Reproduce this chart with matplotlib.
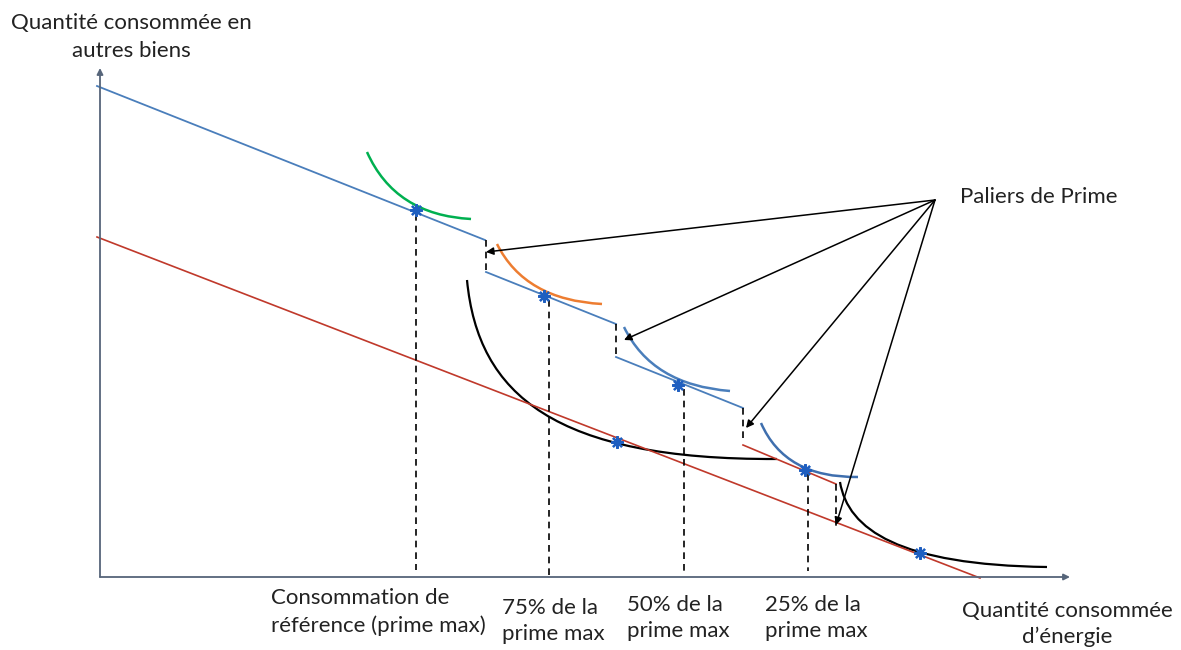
import matplotlib
matplotlib.use("Agg")
import matplotlib.pyplot as plt
from matplotlib.path import Path
from matplotlib.patches import PathPatch

# schematic drawn in picture units (x to the right, y downwards)
W, H = 1181, 650

# axes
origin = (100, 577)
y_axis_top = 68
x_axis_end = 1070

# budget lines
blue_steps = [[(97, 86), (485, 240)],
              [(486, 272), (616, 324)],
              [(616, 357), (743, 408)]]
red_upper = [(743, 445), (836, 484)]
red_lower = [(97, 237), (980, 578)]
step_x = [486, 616, 743, 836]
step_top = [240, 324, 408, 484]
step_bot = [273, 357, 441, 526]

# indifference curves (quadratic: start, control, end)
quad_curves = {
    "#00b050": [(367, 152), (395, 215), (471, 219)],
    "#ed7d31": [(497, 244), (525, 300), (602, 304)],
    "#4a7ebb": [(624, 327), (652, 385), (730, 391)],
    "#3f6fae": [(761, 423), (785, 478), (858, 477)],
}
# black curves (cubic)
cubic_curves = [
    [(467, 280), (478, 395), (555, 460), (777, 459)],
    [(840, 482), (848, 530), (900, 565), (1047, 567)],
]

# optimum points
star_x = [416, 544, 678, 805, 617, 920]
star_y = [210, 296, 385, 470, 442, 553]
drop_x = [416, 549, 684, 808]
drop_top = [214, 300, 389, 474]
drop_bot = [570, 575, 573, 571]

# arrows "Paliers de Prime"
arrow_from = (935, 200)
arrow_to = [(486, 252), (624, 340), (746, 428), (836, 525)]

labels = [("Consommation de\nréférence (prime max)", 271, 612),
          ("75% de la\nprime max", 502, 621),
          ("50% de la\nprime max", 627, 618),
          ("25% de la\nprime max", 765, 618)]

fig = plt.figure(figsize=(W / 100, H / 100), dpi=100)
ax = fig.add_axes([0, 0, 1, 1])
ax.set_xlim(0, W)
ax.set_ylim(H, 0)
ax.axis("off")

font = "Lato"
fs = 16
axis_col = "#56657a"
txt_col = "#222222"

ax.annotate("", xy=(origin[0], y_axis_top), xytext=(origin[0], origin[1]),
            arrowprops=dict(arrowstyle="-|>", color=axis_col, lw=1.3,
                            mutation_scale=9, shrinkA=0, shrinkB=0))
ax.annotate("", xy=(x_axis_end, origin[1]), xytext=(origin[0], origin[1]),
            arrowprops=dict(arrowstyle="-|>", color=axis_col, lw=1.3,
                            mutation_scale=9, shrinkA=0, shrinkB=0))

for seg in blue_steps:
    ax.plot([seg[0][0], seg[1][0]], [seg[0][1], seg[1][1]], color="#4a7ebb", lw=1.3)
ax.plot([p[0] for p in red_upper], [p[1] for p in red_upper], color="#c0392b", lw=1.2)
ax.plot([p[0] for p in red_lower], [p[1] for p in red_lower], color="#c0392b", lw=1.2)

for x, t, b in zip(step_x, step_top, step_bot):
    ax.plot([x, x], [t, b], color="black", lw=1.2, ls=(0, (4, 3)))

for col, pts in quad_curves.items():
    path = Path(pts, [Path.MOVETO, Path.CURVE3, Path.CURVE3])
    ax.add_patch(PathPatch(path, fc="none", ec=col, lw=1.8))
for pts in cubic_curves:
    path = Path(pts, [Path.MOVETO, Path.CURVE4, Path.CURVE4, Path.CURVE4])
    ax.add_patch(PathPatch(path, fc="none", ec="black", lw=1.6))

for x, t, b in zip(drop_x, drop_top, drop_bot):
    ax.plot([x, x], [t, b], color="black", lw=1.2, ls=(0, (4, 3)))

ax.plot(star_x, star_y, ls="none", marker=(8, 2, 0), ms=9, mew=1.6,
        color="#1f5fc0", zorder=5)

for tgt in arrow_to:
    ax.annotate("", xy=tgt, xytext=arrow_from,
                arrowprops=dict(arrowstyle="-|>", color="black", lw=1.1,
                                mutation_scale=11, shrinkA=0, shrinkB=0))

ax.text(131, 37, "Quantité consommée en\nautres biens", ha="center", va="center",
        fontsize=fs, family=font, color=txt_col, linespacing=1.45)
ax.text(960, 197, "Paliers de Prime", ha="left", va="center",
        fontsize=fs, family=font, color=txt_col)
ax.text(1067, 624, "Quantité consommée\nd’énergie", ha="center", va="center",
        fontsize=fs, family=font, color=txt_col, linespacing=1.4)
for txt, x, y in labels:
    ax.text(x, y, txt, ha="left", va="center", fontsize=fs, family=font,
            color=txt_col, linespacing=1.4)

fig.savefig("out.png", dpi=100)
